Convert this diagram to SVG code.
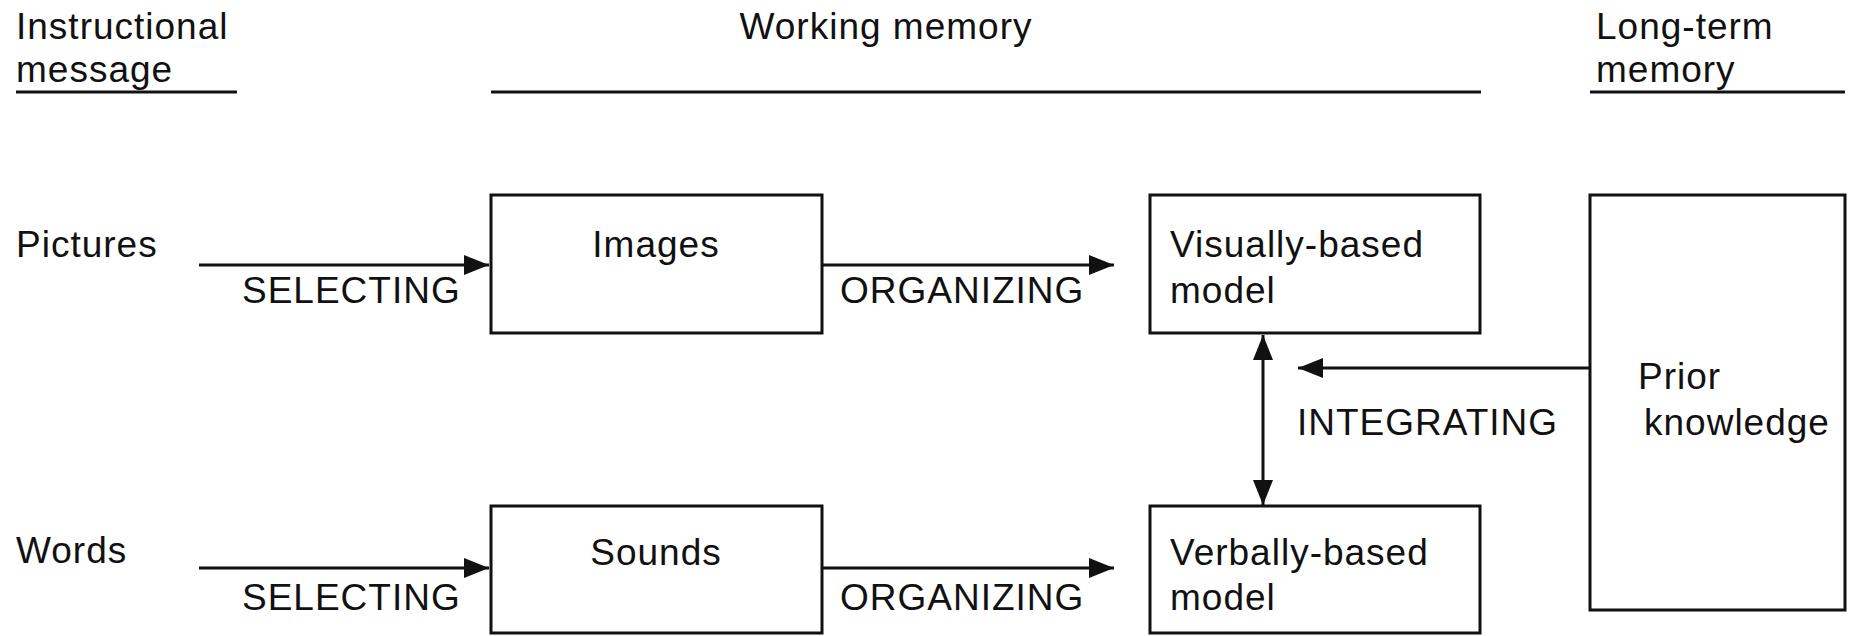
<svg xmlns="http://www.w3.org/2000/svg" width="1854" height="636" viewBox="0 0 1854 636">
  <style>
    text { font-family: "Liberation Sans", Arial, sans-serif; font-size: 37px; letter-spacing: 1px; fill: #111; }
    .box { fill: #fff; stroke: #111; stroke-width: 3; }
    .rule { stroke: #111; stroke-width: 3; }
    .conn { stroke: #111; stroke-width: 3; fill: none; }
    .mid { text-anchor: middle; }
  </style>
  <defs>
    <marker id="head" markerUnits="userSpaceOnUse" markerWidth="28" markerHeight="22" refX="25" refY="10" orient="auto-start-reverse">
      <path d="M0,0 L25,10 L0,20 z" fill="#111"/>
    </marker>
  </defs>
  <rect width="1854" height="636" fill="#fff"/>

  <!-- column headings -->
  <g id="heading-message">
    <text x="16" y="39">Instructional</text>
    <text x="16" y="82">message</text>
    <line class="rule" x1="16" y1="92" x2="237" y2="92"/>
  </g>
  <g id="heading-working">
    <text class="mid" x="886" y="39">Working memory</text>
    <line class="rule" x1="491" y1="92" x2="1481" y2="92"/>
  </g>
  <g id="heading-longterm">
    <text x="1596" y="39">Long-term</text>
    <text x="1596" y="82">memory</text>
    <line class="rule" x1="1590" y1="92" x2="1845" y2="92"/>
  </g>

  <!-- inputs -->
  <g id="pictures"><text x="16" y="257">Pictures</text></g>
  <g id="words"><text x="16" y="563">Words</text></g>

  <!-- working memory boxes -->
  <g id="images">
    <rect class="box" x="491" y="195" width="331" height="138"/>
    <text class="mid" x="656" y="257">Images</text>
  </g>
  <g id="sounds">
    <rect class="box" x="491" y="506" width="331" height="127"/>
    <text class="mid" x="656" y="565">Sounds</text>
  </g>
  <g id="visual-model">
    <rect class="box" x="1150" y="195" width="330" height="138"/>
    <text x="1170" y="257">Visually-based</text>
    <text x="1170" y="303">model</text>
  </g>
  <g id="verbal-model">
    <rect class="box" x="1150" y="506" width="330" height="127"/>
    <text x="1170" y="565">Verbally-based</text>
    <text x="1170" y="610">model</text>
  </g>

  <!-- long-term memory -->
  <g id="prior-knowledge">
    <rect class="box" x="1590" y="195" width="255" height="415"/>
    <text x="1638" y="389">Prior</text>
    <text x="1644" y="435">knowledge</text>
  </g>

  <!-- processes -->
  <g id="connectors">
    <line class="conn" x1="199" y1="265" x2="489" y2="265" marker-end="url(#head)"/>
    <line class="conn" x1="199" y1="568" x2="489" y2="568" marker-end="url(#head)"/>
    <line class="conn" x1="822" y1="265" x2="1114" y2="265" marker-end="url(#head)"/>
    <line class="conn" x1="822" y1="568" x2="1114" y2="568" marker-end="url(#head)"/>
    <line class="conn" x1="1590" y1="368" x2="1298" y2="368" marker-end="url(#head)"/>
    <line class="conn" x1="1263" y1="335" x2="1263" y2="505" marker-start="url(#head)" marker-end="url(#head)"/>
  </g>
  <g id="process-labels">
    <text x="242" y="303">SELECTING</text>
    <text x="242" y="610">SELECTING</text>
    <text x="840" y="303">ORGANIZING</text>
    <text x="840" y="610">ORGANIZING</text>
    <text x="1297" y="435">INTEGRATING</text>
  </g>
</svg>
